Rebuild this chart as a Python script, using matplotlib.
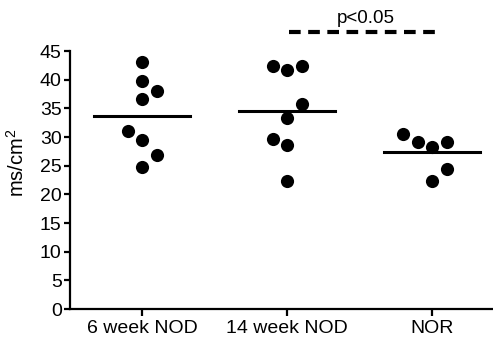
import matplotlib
matplotlib.use("Agg")
import matplotlib.pyplot as plt
import numpy as np

plt.rcParams['font.family'] = ['Liberation Sans', 'DejaVu Sans']
plt.rcParams['mathtext.fontset'] = 'custom'
plt.rcParams['mathtext.rm'] = 'Liberation Sans'
plt.rcParams['mathtext.it'] = 'Liberation Sans'
plt.rcParams['mathtext.default'] = 'regular'

categories = ["6 week NOD", "14 week NOD", "NOR"]
six_week = [43.1, 39.8, 38.0, 36.7, 31.0, 29.5, 26.9, 24.8]
fourteen_week = [42.4, 41.7, 42.4, 35.7, 33.4, 29.6, 28.6, 22.3]
nor = [30.6, 29.2, 28.3, 29.2, 24.4, 22.4]
groups = [six_week, fourteen_week, nor]
# swarm offsets (horizontal jitter, category units)
offsets = [
    [0, 0, 0.1, 0, -0.1, 0, 0.1, 0],
    [-0.1, 0, 0.1, 0.1, 0, -0.1, 0, 0],
    [-0.2, -0.1, 0, 0.1, 0.1, 0],
]
yticks = [0, 5, 10, 15, 20, 25, 30, 35, 40, 45]
sig_level = 48.4
sig_text = "p<0.05"

fig = plt.figure(figsize=(4.93, 3.41), dpi=100)
ax = fig.add_axes([70/493, 32/341, 423/493, 258/341])

for i, (vals, offs) in enumerate(zip(groups, offsets)):
    xs = np.array(offs) + i
    ax.scatter(xs, vals, s=90, color='black', zorder=3, linewidths=0)
    m = np.mean(vals)
    ax.plot([i - 0.33, i + 0.33], [m, m], color='black', lw=2.2, zorder=2)

ax.plot([1.01, 2.02], [sig_level, sig_level], color='black', lw=3, ls=(0, (2.8, 1.8)),
        clip_on=False, solid_capstyle='butt', dash_capstyle='butt')
ax.text(1.54, sig_level + 0.8, sig_text, ha='center', va='bottom', fontsize=13.5)

ax.set_xlim(-0.497, 2.42)
ax.set_ylim(0, 45)
ax.set_yticks(yticks)
ax.set_xticks(range(len(categories)))
ax.set_xticklabels(categories)
ax.spines['top'].set_visible(False)
ax.spines['right'].set_visible(False)
for s in ['left', 'bottom']:
    ax.spines[s].set_linewidth(1.6)
ax.tick_params(axis='both', labelsize=14, width=1.6, direction='out')
ax.tick_params(axis='y', length=4, pad=2)
ax.tick_params(axis='x', length=5, pad=3)
ax.set_ylabel("ms/cm$^2$", fontsize=14.5)
ax.yaxis.set_label_coords(-0.099, 0.568)

fig.savefig("out.png", dpi=100)
